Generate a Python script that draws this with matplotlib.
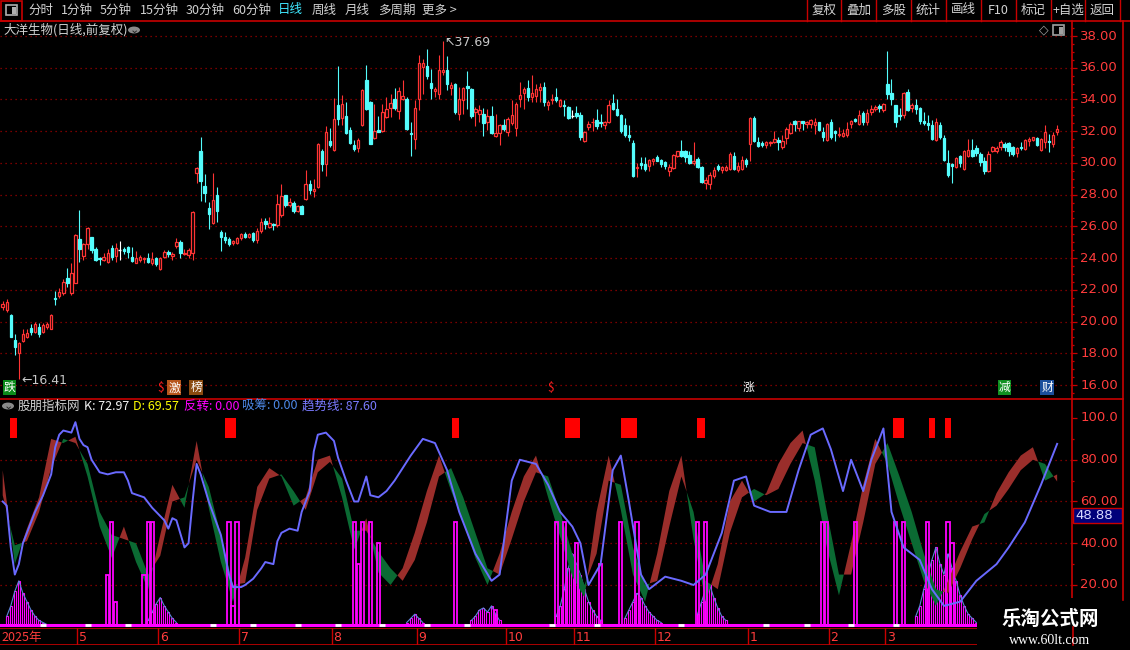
import matplotlib
matplotlib.use("Agg")
import matplotlib.pyplot as plt
import numpy as np
from matplotlib.transforms import blended_transform_factory as btf
from matplotlib.patches import Rectangle, Circle
from matplotlib.lines import Line2D

plt.rcParams['font.family'] = ['Noto Sans CJK SC', 'DejaVu Sans']

# ---------------- price data (daily candles) ----------------
opens = [
 20.90,20.73,20.41,18.84,18.04,18.80,19.00,19.57,19.36,19.68,
 19.36,19.63,19.51,21.50,21.63,21.78,22.72,21.78,22.45,25.20,
 24.13,24.87,25.35,24.57,24.03,23.88,23.73,24.61,24.15,24.51,
 24.55,24.68,24.05,23.71,23.88,23.92,23.98,23.67,23.98,23.29,
 24.09,24.36,24.13,24.76,25.03,24.26,24.20,24.30,29.34,30.75,
 28.54,27.18,26.19,27.98,25.62,25.35,25.20,24.93,24.97,25.24,
 25.52,25.31,25.56,25.14,25.71,26.36,25.98,26.17,26.06,26.69,
 27.95,27.32,27.49,26.97,27.28,27.74,28.65,28.21,28.48,30.73,
 29.95,31.36,30.79,33.63,32.85,32.93,32.09,31.10,30.96,32.37,
 35.20,33.84,31.57,32.05,32.01,32.89,33.46,34.05,33.27,34.00,
 34.05,31.90,31.48,34.05,36.04,36.08,35.05,34.51,34.36,35.73,
 35.83,34.72,34.99,33.10,33.98,34.82,34.68,33.21,33.10,33.10,
 32.58,32.93,31.69,31.90,32.37,31.95,32.51,32.22,34.05,34.42,
 34.72,34.15,34.21,34.61,34.78,33.62,33.94,34.15,33.58,33.68,
 33.52,32.96,33.14,32.99,31.41,32.25,32.55,32.71,32.57,32.36,
 32.57,33.77,33.37,32.99,32.36,31.79,31.26,29.68,29.98,29.94,
 29.83,30.11,30.36,30.21,30.04,29.52,29.66,30.42,30.72,30.78,
 30.53,29.98,30.25,29.77,28.74,28.67,29.16,29.83,29.56,29.56,
 29.62,30.46,29.56,29.62,30.21,31.20,32.84,31.31,31.24,31.16,
 31.26,31.35,31.47,30.99,31.56,31.87,32.63,32.21,32.63,32.46,
 32.46,32.36,32.55,31.98,31.45,32.57,32.04,31.73,31.68,31.79,
 32.46,32.74,32.46,33.14,32.57,33.20,33.37,33.56,33.31,34.99,
 34.42,33.62,33.05,33.05,34.50,33.45,33.66,33.45,32.63,32.51,
 32.36,31.45,32.42,31.58,30.00,29.94,29.73,30.42,29.62,30.46,
 30.82,30.95,30.57,30.15,29.47,30.74,30.78,30.99,31.20,31.24,
 31.03,30.61,30.99,30.88,31.37,31.45,31.58,30.82,31.35,31.37,
 31.20,31.94]
highs = [
 21.30,21.40,20.45,19.20,18.73,19.50,19.50,19.85,19.95,19.90,
 19.93,20.00,20.45,21.90,22.10,22.70,23.40,23.67,25.50,27.03,
 24.97,25.98,25.35,24.70,24.09,24.30,24.60,24.80,24.93,25.08,
 24.72,24.76,24.72,24.47,24.20,24.09,24.34,24.40,24.09,24.09,
 24.51,24.51,24.40,25.24,25.14,24.55,24.61,26.97,29.72,31.65,
 29.30,27.56,29.38,28.50,25.77,25.67,25.31,25.14,25.35,25.56,
 25.67,25.60,25.67,25.88,26.50,26.50,26.61,26.21,28.06,28.69,
 27.99,27.80,27.57,27.32,27.34,29.57,28.90,29.00,31.25,30.90,
 32.30,32.20,34.10,36.08,34.26,33.84,32.26,31.42,31.59,34.68,
 36.15,33.90,33.69,32.93,33.69,34.15,34.36,34.74,34.78,35.24,
 34.15,32.58,33.94,36.78,36.57,37.20,35.94,34.78,36.78,37.69,
 36.71,35.10,35.03,34.78,34.78,35.77,34.74,33.52,33.63,33.48,
 33.42,33.56,33.06,32.47,32.79,32.89,33.98,33.84,35.10,34.78,
 35.20,35.52,34.99,35.03,35.09,33.94,34.32,34.72,34.04,33.98,
 33.56,33.31,33.56,33.20,32.04,32.63,32.84,33.41,33.09,32.67,
 33.94,34.32,34.00,33.10,32.84,32.42,31.45,29.98,30.36,30.36,
 30.25,30.32,30.53,30.25,30.15,29.94,30.57,30.78,31.47,30.82,
 30.78,31.35,30.40,29.83,29.09,29.41,29.73,29.94,29.83,29.89,
 30.67,30.67,30.08,30.46,30.32,32.88,32.93,31.66,31.41,31.41,
 31.41,32.00,31.66,31.79,32.25,32.57,32.71,32.67,32.67,32.67,
 32.78,32.84,32.57,32.29,32.50,32.78,32.08,32.29,32.15,32.57,
 32.71,32.84,33.31,33.26,33.41,33.68,33.62,33.73,33.77,37.03,
 35.31,33.68,33.47,34.50,34.67,33.77,34.04,33.52,33.20,32.99,
 32.71,32.84,32.61,31.77,30.82,29.98,30.40,30.53,30.82,31.52,
 31.52,31.16,30.67,30.40,30.78,31.09,31.09,31.45,31.35,31.31,
 31.09,31.03,31.31,31.52,31.62,31.66,31.62,31.58,32.42,31.83,
 31.94,32.36]
lows = [
 20.75,20.60,19.00,17.90,16.41,18.73,18.95,19.15,19.25,19.00,
 19.30,19.53,19.50,21.05,21.50,21.67,22.20,21.67,22.40,23.78,
 23.88,24.60,24.30,23.80,23.57,23.84,23.67,23.88,23.78,23.88,
 24.24,23.98,23.78,23.67,23.78,23.67,23.67,23.57,23.52,23.25,
 23.98,24.09,23.88,24.61,23.98,24.20,23.98,23.88,28.71,27.62,
 27.56,25.81,26.15,26.30,24.47,24.93,24.76,24.82,24.89,25.14,
 25.24,25.24,25.03,24.93,25.56,25.81,25.88,25.79,25.96,26.59,
 27.22,27.22,26.84,26.90,26.76,27.68,28.06,27.85,28.44,29.49,
 29.17,31.00,30.75,32.37,32.37,31.80,31.17,30.75,30.68,32.32,
 33.31,31.17,31.53,31.95,31.95,32.85,32.89,33.31,32.79,33.94,
 32.05,30.41,30.90,33.31,34.36,35.31,34.05,34.15,34.05,35.52,
 34.57,34.26,33.10,32.72,33.10,33.42,32.85,32.30,32.58,31.67,
 32.09,31.84,31.63,31.11,32.01,31.67,32.37,31.67,33.52,33.42,
 33.88,33.84,33.83,33.83,33.56,33.31,33.73,33.87,33.52,32.93,
 32.78,32.84,32.84,31.45,31.31,32.08,32.04,32.15,32.29,32.15,
 32.50,33.31,32.93,31.87,31.62,31.41,29.14,29.10,29.62,29.52,
 29.52,29.89,30.11,29.77,29.62,29.20,29.62,30.36,30.40,30.04,
 29.94,29.89,29.68,28.72,28.36,28.36,29.05,29.52,29.35,29.47,
 29.56,29.56,29.41,29.56,29.73,30.11,31.31,31.03,30.99,30.95,
 31.09,31.24,30.82,30.88,31.20,31.83,32.00,32.04,32.08,32.21,
 32.21,31.83,32.00,31.41,31.41,31.52,31.41,31.62,31.62,31.62,
 32.21,32.57,32.42,32.36,32.36,33.05,33.26,33.24,33.20,34.04,
 33.62,32.29,32.72,32.84,33.26,33.20,33.09,32.46,32.42,32.08,
 31.45,31.37,31.52,30.15,29.14,28.72,29.68,29.73,29.56,30.40,
 30.36,30.46,29.83,29.31,29.41,30.67,30.61,30.84,30.78,30.46,
 30.46,30.36,30.84,30.82,31.09,31.37,31.09,30.78,30.95,30.67,
 30.99,31.79]
closes = [
 21.10,21.25,19.05,18.42,18.63,19.20,19.30,19.36,19.85,19.21,
 19.78,19.85,20.41,21.44,21.88,22.51,22.41,23.04,25.46,24.57,
 24.87,25.92,24.51,23.88,23.95,24.09,24.34,24.09,24.61,24.51,
 24.47,24.36,23.84,23.98,24.09,24.03,23.73,23.92,23.61,24.03,
 24.40,24.24,24.26,25.03,24.34,24.34,24.51,26.93,29.66,28.88,
 28.08,26.78,27.66,26.99,25.35,25.14,24.87,25.08,25.24,25.52,
 25.35,25.52,25.14,25.71,26.25,26.15,26.23,26.06,27.43,27.89,
 27.32,27.53,27.00,27.26,26.80,28.69,28.27,28.37,31.21,29.91,
 31.95,31.11,32.79,32.79,33.73,31.88,31.25,30.90,31.42,34.61,
 33.42,31.21,31.99,31.97,33.21,33.37,33.79,33.46,34.51,34.19,
 32.11,31.80,33.48,36.29,36.29,35.47,34.74,34.68,35.87,35.87,
 34.99,34.89,33.21,34.05,34.74,34.72,32.93,33.37,33.31,32.51,
 32.93,31.90,31.90,32.37,32.16,32.79,33.04,33.73,34.26,34.63,
 34.15,34.40,34.63,34.78,33.83,33.87,34.02,33.94,33.94,33.56,
 32.82,32.96,32.93,31.62,31.98,32.46,32.60,32.35,32.50,32.61,
 33.62,33.41,32.99,32.04,31.79,31.62,29.20,29.77,29.89,29.62,
 30.19,30.23,30.15,29.94,29.79,29.73,30.51,30.72,30.46,30.36,
 30.02,30.11,29.77,28.78,28.95,29.24,29.58,29.62,29.73,29.73,
 30.57,29.62,29.83,30.21,29.94,32.84,31.41,31.09,31.16,31.31,
 31.35,31.52,31.31,31.41,32.15,32.46,32.46,32.63,32.51,32.57,
 32.72,32.55,32.08,31.62,32.46,31.62,31.87,31.83,31.89,32.15,
 32.63,32.63,33.05,32.57,33.14,33.41,33.52,33.47,33.73,34.36,
 34.04,32.57,32.93,34.42,33.31,33.62,33.37,32.63,32.51,32.36,
 31.52,32.61,31.66,30.21,29.24,29.81,30.32,29.98,30.78,30.82,
 30.46,30.63,30.04,29.52,30.57,31.03,30.95,31.31,31.03,30.78,
 30.57,30.95,30.92,31.45,31.52,31.62,31.14,31.52,31.98,31.33,
 31.77,32.15]

price_ticks = [16, 18, 20, 22, 24, 26, 28, 30, 32, 34, 36, 38]
price_tick_labels = ["16.00", "18.00", "20.00", "22.00", "24.00", "26.00",
                     "28.00", "30.00", "32.00", "34.00", "36.00", "38.00"]

# month boundaries (candle index of first trading day) and labels
month_start = [19, 39, 59, 82, 103, 125, 142, 162, 185, 205, 219]
month_labels = ["5", "6", "7", "8", "9", "10", "11", "12", "1", "2", "3"]

# event markers above the divider: candle index, text, text colour, box colour
event_idx = [1.7, 39.2, 42.4, 47.9, 135.5, 184.5, 248.0, 258.5]
event_txt = ["跌", "$", "激", "榜", "$", "涨", "减", "财"]
event_fg = ["#ffffff", "#ff2020", "#ffffff", "#ffffff", "#ff2020", "#ffffff", "#ffffff", "#ffffff"]
event_bg = ["#0a8a1a", None, "#b8561c", "#8a4a10", None, None, "#109020", "#1c4f9c"]

# ---------------- indicator data ----------------
kd_idx = [0, 3, 6, 9, 12, 15, 18, 21, 24, 27, 30, 33, 36, 39, 42, 45, 48, 51, 54, 57,
          60, 63, 66, 69, 72, 75, 78, 81, 84, 87, 90, 93, 96, 99, 102, 105, 108, 111, 114, 117,
          120, 123, 126, 129, 132, 135, 138, 141, 144, 147, 150, 153, 156, 159, 162, 165, 168, 171, 174, 177,
          180, 183, 186, 189, 192, 195, 198, 201, 204, 207, 210, 213, 216, 219, 222, 225, 228, 231, 234, 237,
          240, 243, 246, 249, 252, 255, 258, 261]
k_vals = [75, 30, 47, 62, 90, 88, 91, 72, 48, 33, 48, 31, 18, 44, 68, 57, 89, 57, 31, 12,
          33, 67, 76, 72, 58, 62, 80, 82, 62, 37, 52, 26, 20, 28, 45, 65, 82, 65, 50, 33,
          20, 35, 55, 72, 82, 62, 43, 24, 14, 55, 82, 56, 25, 12, 35, 65, 82, 42, 12, 30,
          60, 70, 60, 64, 78, 88, 94, 70, 38, 15, 40, 68, 90, 78, 58, 40, 22, 10, 22, 36,
          48, 50, 64, 74, 82, 86, 70, 72.97]
d_vals = [63, 39, 41, 55, 76, 90, 88, 78, 55, 44, 42, 40, 25, 34, 60, 62, 80, 67, 44, 20,
          21, 56, 71, 73, 65, 56, 74, 79, 71, 46, 46, 36, 28, 22, 32, 50, 72, 76, 62, 45,
          28, 25, 42, 60, 74, 72, 55, 35, 20, 35, 70, 68, 38, 20, 22, 48, 72, 55, 22, 18,
          45, 62, 66, 63, 66, 78, 88, 86, 55, 25, 25, 50, 78, 88, 72, 55, 35, 18, 16, 28,
          42, 54, 58, 66, 75, 80, 78, 69.57]

trend_idx = [0, 1, 2, 3, 4, 5, 7, 8, 10, 12, 13, 14, 15, 17, 18, 19, 20, 21, 22, 24,
             26, 28, 30, 31, 32, 35, 37, 40, 41, 42, 43, 45, 46, 47, 48, 49, 51, 54, 56, 57,
             59, 60, 62, 64, 65, 67, 68, 69, 71, 73, 74, 76, 77, 78, 80, 82, 83, 85, 87, 88,
             90, 91, 93, 95, 97, 101, 104, 107, 110, 113, 117, 121, 123, 126, 128, 132, 135, 138, 141, 143,
             145, 148, 151, 153, 155, 158, 160, 164, 168, 171, 174, 178, 181, 184, 186, 190, 194, 197, 200, 203,
             205, 208, 210, 213, 215, 218, 220, 223, 227, 230, 233, 237, 241, 246, 249, 253, 257, 261]
trend_vals = [60, 58, 38, 25, 30, 40, 50, 55, 63, 73, 86, 92, 94, 93, 98, 90, 87, 86, 80, 74,
              73, 74, 74, 70, 64, 62, 57, 51, 47, 52, 51, 38, 40, 60, 78, 73, 60, 44, 25, 19,
              19, 20, 23, 28, 31, 30, 41, 45, 47, 46, 55, 65, 84, 92, 93, 89, 81, 70, 60, 60,
              72, 63, 62, 65, 70, 82, 90, 88, 75, 55, 35, 22, 25, 70, 80, 78, 68, 55, 48, 40,
              20, 30, 75, 82, 60, 25, 18, 24, 22, 20, 25, 45, 70, 72, 58, 55, 55, 75, 92, 95,
              85, 65, 80, 65, 80, 95, 55, 38, 32, 18, 10, 12, 22, 30, 38, 50, 68, 87.6]

# 反转 bars (candle index, height)
rev_idx = [26, 27, 28, 35, 36, 37, 56, 57, 58, 87, 88, 89, 91, 93, 112, 122, 137, 139, 142, 148,
           153, 157, 172, 174, 203, 204, 211, 221, 223, 229, 234, 235]
rev_vals = [25, 50, 12, 25, 50, 50, 50, 10, 50, 50, 30, 50, 50, 40, 50, 8, 50, 50, 40, 30,
            50, 50, 50, 50, 50, 50, 50, 50, 50, 50, 50, 40]

# 吸筹 histogram (candle index, height)
acc_idx = [1, 2, 3, 4, 5, 6, 7, 8, 9, 10, 11,
           36, 37, 38, 39, 40, 41, 42, 43,
           100, 101, 102, 103, 104,
           116, 117, 118, 119, 120, 121, 122, 123,
           137, 138, 139, 140, 141, 142, 143, 144, 145, 146, 147, 148,
           154, 155, 156, 157, 158, 159, 160, 161, 162, 163,
           172, 173, 174, 175, 176, 177, 178, 179,
           226, 227, 228, 229, 230, 231, 232, 233, 234, 235, 236, 237, 238, 239, 240, 241]
acc_vals = [5, 10, 17, 22, 16, 12, 8, 5, 3, 2, 1,
            3, 7, 11, 14, 10, 7, 4, 2,
            2, 4, 6, 4, 2,
            3, 5, 8, 9, 7, 10, 6, 3,
            5, 10, 18, 28, 35, 30, 25, 18, 12, 8, 5, 3,
            4, 8, 12, 16, 14, 10, 7, 5, 3, 2,
            6, 12, 18, 20, 14, 9, 5, 3,
            5, 10, 18, 25, 32, 38, 30, 25, 35, 28, 22, 15, 10, 6, 4, 2]

# red signal blocks at the top of the indicator (candle-index span)
block_lo = [1.8, 55.0, 111.2, 139.2, 153.0, 171.9, 220.4, 229.3, 233.3]
block_hi = [3.5, 57.7, 112.9, 142.9, 157.0, 173.8, 223.1, 230.8, 234.8]

# small white markers on the base line
mark_idx = [10, 21, 31, 52, 62, 73, 83, 94, 105, 115, 136, 147, 168, 189, 199, 210, 221]

ind_ticks = [20, 40, 60, 80, 100]
ind_tick_labels = ["20.00", "40.00", "60.00", "80.00", "100.0"]

# ---------------- styling ----------------
RED = "#ff3434"
CYAN = "#54fcfc"
LINE_RED = "#c80000"
GRID = "#a00000"
AXIS_TXT = "#ff3c3c"
TXT = "#d2d2d2"
BROWN = "#9a2e2b"
GREEN = "#0b6a33"
BLUE = "#6a6aff"
MAG = "#ff00ff"

W, H = 1130, 650
fig = plt.figure(figsize=(W / 100, H / 100), dpi=100, facecolor="black")


def box(x0, y0, x1, y1):
    return [x0 / W, 1 - y1 / H, (x1 - x0) / W, (y1 - y0) / H]


def fx(x):
    return x / W


def fy(y):
    return 1 - y / H


def ftext(x, y, s, **kw):
    kw.setdefault("va", "center")
    kw.setdefault("fontsize", 9)
    fig.text(fx(x), fy(y), s, **kw)


def fline(xs, ys, **kw):
    fig.add_artist(Line2D([fx(v) for v in xs], [fy(v) for v in ys],
                          transform=fig.transFigure, **kw))


def frect(x0, y0, x1, y1, **kw):
    fig.add_artist(Rectangle((fx(x0), fy(y1)), (x1 - x0) / W, (y1 - y0) / H,
                             transform=fig.transFigure, **kw))


XLIM = (-0.668, 264.68)

# ---------------- main price panel ----------------
ax = fig.add_axes(box(0, 21, 1072, 398), facecolor="black")
ax.set_xlim(*XLIM)
ax.set_ylim(15.181, 38.946)
for s in ["left", "top", "bottom"]:
    ax.spines[s].set_visible(False)
ax.spines["right"].set_color(LINE_RED)
ax.spines["right"].set_linewidth(1.2)
ax.set_xticks([])
ax.yaxis.tick_right()
ax.set_yticks(price_ticks)
ax.set_yticks(np.arange(15.5, 38.9, 0.5), minor=True)
ax.tick_params(axis="y", which="major", length=3.4, width=0.9, color=LINE_RED, labelright=False)
ax.tick_params(axis="y", which="minor", length=1.7, width=0.9, color=LINE_RED)
for t in price_ticks:
    ax.axhline(t, color=GRID, lw=0.9, ls=(0, (1, 3)), zorder=0)
tr = btf(ax.transAxes, ax.transData)
for t, lab in zip(price_ticks, price_tick_labels):
    ax.text(1118 / 1072, t, lab, transform=tr, ha="right", va="center",
            color=AXIS_TXT, fontsize=9.5, clip_on=False, family="DejaVu Sans")

o = np.array(opens); h = np.array(highs); l = np.array(lows); c = np.array(closes)
idx = np.arange(len(c))
up = c > o
dn = c < o
eq = c == o
wick_col = np.where(up, RED, np.where(dn, CYAN, "#ffffff"))
ax.vlines(idx, l, h, colors=wick_col, lw=0.8, zorder=2)
bb = np.minimum(o, c)
bh = np.maximum(np.abs(c - o), 0.05)
ax.bar(idx[up], bh[up], bottom=bb[up], width=0.6, facecolor="black",
       edgecolor=RED, lw=0.9, zorder=3)
ax.bar(idx[dn], bh[dn], bottom=bb[dn], width=0.6, facecolor=CYAN,
       edgecolor=CYAN, lw=0.9, zorder=3)
ax.hlines(c[eq], idx[eq] - 0.4, idx[eq] + 0.4, colors="#ffffff", lw=1.0, zorder=3)

# high / low annotations
imax = int(np.argmax(h))
imin = int(np.argmin(l))
ax.text(imax + 0.3, h[imax] - 0.12, "↖37.69", color="#c8c8c8", fontsize=9,
        ha="left", va="center", family="DejaVu Sans")
ax.text(imin + 0.6, l[imin] - 0.12, "←16.41", color="#c8c8c8", fontsize=9,
        ha="left", va="center", family="DejaVu Sans")

# event markers
tr_ev = btf(ax.transData, ax.transAxes)
for xi, s, fg, bg in zip(event_idx, event_txt, event_fg, event_bg):
    kw = dict(transform=tr_ev, ha="center", va="center", color=fg, fontsize=8.5,
              clip_on=False)
    if bg is not None:
        kw["bbox"] = dict(boxstyle="square,pad=0.08", fc=bg, ec="none")
    ax.text(xi, 0.027, s, **kw)

# ---------------- indicator panel ----------------
ax2 = fig.add_axes(box(0, 399, 1072, 627), facecolor="black")
ax2.set_xlim(*XLIM)
ax2.set_ylim(-0.12, 109.1)
for s in ["left", "top", "bottom"]:
    ax2.spines[s].set_visible(False)
ax2.spines["right"].set_color(LINE_RED)
ax2.spines["right"].set_linewidth(1.2)
ax2.set_xticks([])
ax2.yaxis.tick_right()
ax2.set_yticks(ind_ticks)
ax2.set_yticks([10, 30, 50, 70, 90], minor=True)
ax2.tick_params(axis="y", which="major", length=3.4, width=0.9, color=LINE_RED, labelright=False)
ax2.tick_params(axis="y", which="minor", length=1.7, width=0.9, color=LINE_RED)
for t in ind_ticks[:-1]:
    ax2.axhline(t, color=GRID, lw=0.9, ls=(0, (1, 3)), zorder=0)
tr2 = btf(ax2.transAxes, ax2.transData)
for t, lab in zip(ind_ticks, ind_tick_labels):
    ax2.text(1118 / 1072, t, lab, transform=tr2, ha="right", va="center",
             color=AXIS_TXT, fontsize=9.5, clip_on=False, family="DejaVu Sans")

# accumulation histogram
ax2.bar(acc_idx, acc_vals, width=0.5, bottom=0, facecolor="none",
        edgecolor=MAG, lw=0.8, zorder=1)
ai = np.array(acc_idx, dtype=float)
av = np.array(acc_vals, dtype=float)
brk = np.where(np.diff(ai) > 1)[0] + 1
for seg_i, seg_v in zip(np.split(ai, brk), np.split(av, brk)):
    ax2.plot(seg_i, seg_v, color="#5b86d8", lw=0.8, zorder=1)

# K / D band
K = np.array(k_vals, dtype=float)
D = np.array(d_vals, dtype=float)
ax2.fill_between(kd_idx, K, D, where=K >= D, interpolate=True, color=BROWN, lw=0, zorder=2)
ax2.fill_between(kd_idx, K, D, where=K < D, interpolate=True, color=GREEN, lw=0, zorder=2)

# reversal bars
ax2.bar(rev_idx, rev_vals, width=0.8, bottom=0, facecolor="none",
        edgecolor=MAG, lw=1.3, zorder=3)
# base line
ax2.axhline(1.0, color=MAG, lw=2.2, zorder=3)
ax2.plot(mark_idx, [1.0] * len(mark_idx), ls="none", marker="_", ms=4, mew=2,
         color="#ffffff", zorder=4)

# trend line
ax2.plot(trend_idx, trend_vals, color=BLUE, lw=1.4, zorder=4)

# signal blocks
for lo, hi in zip(block_lo, block_hi):
    ax2.bar(lo, 9.6, width=hi - lo, bottom=90.4, align="edge", color="#ff0000", zorder=5)

# ---------------- date bar ----------------
ax3 = fig.add_axes(box(0, 628, 1072, 645), facecolor="black")
ax3.set_xlim(*XLIM)
ax3.set_ylim(0, 1)
ax3.axis("off")
ax3.axhline(1, color=LINE_RED, lw=1.2)
ax3.axhline(0, color=LINE_RED, lw=1.2)
ax3.text(-0.3, 0.45, "2025年", color=AXIS_TXT, fontsize=9, ha="left", va="center")
for ms, lab in zip(month_start, month_labels):
    ax3.axvline(ms - 0.5, color=LINE_RED, lw=1.0)
    ax3.text(ms - 0.1, 0.45, lab, color=AXIS_TXT, fontsize=9, ha="left", va="center",
             family="DejaVu Sans")

# ---------------- frame lines ----------------
fline([0, 1130], [20.5, 20.5], color=LINE_RED, lw=1.2)
fline([0, 1123], [398.5, 398.5], color=LINE_RED, lw=1.2)
fline([1123, 1123], [20.5, 600], color=LINE_RED, lw=1.2)
fline([1072.5, 1072.5], [627, 645], color=LINE_RED, lw=1.2)

# ---------------- toolbar ----------------
frect(0.5, 0.5, 22, 20.5, fill=False, ec=LINE_RED, lw=1.2)
frect(6, 5, 17, 15, fill=False, ec="#b0b0b0", lw=1.2)
frect(12, 6.5, 15.5, 13.5, fc="#b0b0b0", ec="none")
left_items = [(28, "分时"), (61, "1分钟"), (100, "5分钟"), (140, "15分钟"), (186, "30分钟"),
              (232, "60分钟"), (278, "日线"), (312, "周线"), (345, "月线"), (378, "多周期"),
              (422, "更多 >")]
for x, s in left_items:
    ftext(x, 10, s, color=("#40e8ff" if s == "日线" else TXT), ha="left")
seps = [807, 841, 876, 911, 946, 981, 1016, 1051, 1085, 1120]
for x in seps:
    fline([x, x], [0, 20.5], color=LINE_RED, lw=1.0)
right_items = ["复权", "叠加", "多股", "统计", "画线", "F10", "标记", "+自选", "返回"]
for i, s in enumerate(right_items):
    ftext((seps[i] + seps[i + 1]) / 2, 10, s, color=TXT, ha="center")

# title row
ftext(3, 30, "大洋生物(日线,前复权)", color=TXT, ha="left")
fig.add_artist(Circle((fx(134), fy(30)), 6 / W, transform=fig.transFigure,
                      fc="#8a8a8a", ec="none"))
ftext(134, 30, "⌄", color="#202020", ha="center", fontsize=8, family="DejaVu Sans")
ftext(1044, 30, "◇", color="#a0a0a0", ha="center", fontsize=9, family="DejaVu Sans")
frect(1053, 25, 1064, 35, fill=False, ec="#a0a0a0", lw=1.2)
frect(1059, 26.5, 1062.5, 33.5, fc="#a0a0a0", ec="none")

# indicator header
fig.add_artist(Circle((fx(8), fy(406)), 6 / W, transform=fig.transFigure,
                      fc="#8a8a8a", ec="none"))
ftext(8, 406, "⌄", color="#202020", ha="center", fontsize=8, family="DejaVu Sans")
ftext(18, 406, "股朋指标网", color=TXT, ha="left")
ftext(84, 406, "K: 72.97", color="#f0f0f0", ha="left")
ftext(133, 406, "D: 69.57", color="#ffff00", ha="left")
ftext(184, 406, "反转: 0.00", color="#ff00ff", ha="left")
ftext(242, 406, "吸筹: 0.00", color="#4d88e6", ha="left")
ftext(302, 406, "趋势线: 87.60", color="#7a7aff", ha="left")

# current value box
frect(1073, 508, 1122, 523, fc="#00007a", ec=LINE_RED, lw=1.0)
ftext(1075, 515.5, "48.88", color="#d8d8ff", ha="left", fontsize=9.5, family="DejaVu Sans")

# watermark
frect(977, 598, 1130, 650, fc="black", ec="none")
ftext(1050, 619, "乐淘公式网", color="#ffffff", ha="center", fontsize=14, fontweight="bold")
ftext(1050, 641, "www.60lt.com", color="#ffffff", ha="center", fontsize=10,
      family="Liberation Serif")

fig.savefig("out.png", dpi=100, facecolor="black")
